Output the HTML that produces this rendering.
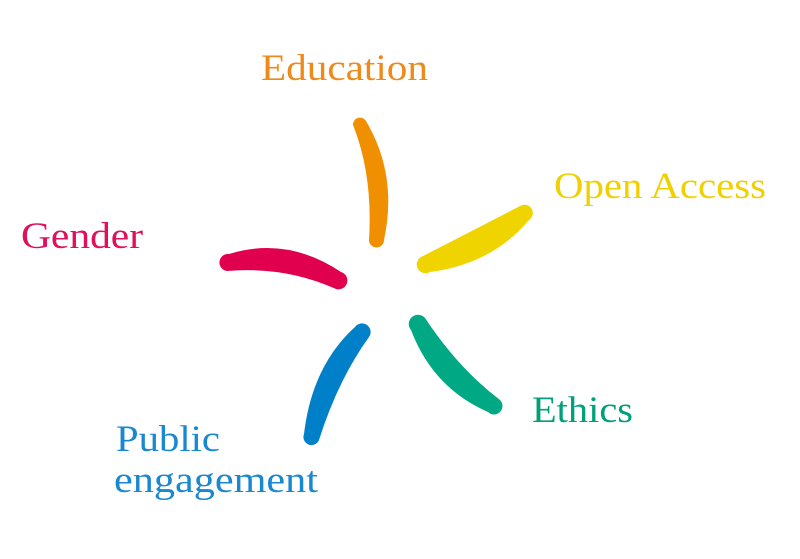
<!DOCTYPE html>
<html><head><style>
body{margin:0;background:#fff;width:800px;height:559px;overflow:hidden}
svg{display:block}
text{font-family:"Liberation Serif",serif;font-size:37px}
</style></head><body>
<svg width="800" height="559" viewBox="0 0 800 559">
<path d="M366 121 Q398 175 384 240 A7 7 0 0 1 369 240 Q373 175 353 125 A7 7 0 0 1 366 121 Z" fill="#f09000"/>
<path d="M529 220 Q492 264 430 272 A8 8 0 0 1 421 257 Q470 232 520 206 A8 8 0 0 1 529 220 Z" fill="#f0d400"/>
<path d="M229 254 Q287 236 341 272 A8 8 0 0 1 336 289 Q285 266 227 271 A8.5 8.5 0 0 1 229 254 Z" fill="#e0004e"/>
<path d="M355 327 Q312 366 304 434 A7.5 7.5 0 0 0 319 440 Q338 380 369 337 A8 8 0 0 0 355 327 Z" fill="#0080c8"/>
<path d="M411 330 Q433 388 488 412 A8 8 0 0 0 500 400 Q458 368 425 318 A8 8 0 0 0 411 330 Z" fill="#00a884"/>
<text x="261" y="80" fill="#ef8a1a" textLength="167" lengthAdjust="spacingAndGlyphs">Education</text>
<text x="554" y="198" fill="#f0d000" textLength="212" lengthAdjust="spacingAndGlyphs">Open Access</text>
<text x="21" y="248" fill="#e0105a" textLength="122" lengthAdjust="spacingAndGlyphs">Gender</text>
<text x="532" y="422" fill="#00a07a" textLength="101" lengthAdjust="spacingAndGlyphs">Ethics</text>
<text x="116" y="451" fill="#1a88d0" textLength="104" lengthAdjust="spacingAndGlyphs">Public</text>
<text x="114" y="492" fill="#1a88d0" textLength="204" lengthAdjust="spacingAndGlyphs">engagement</text>
</svg>
</body></html>
